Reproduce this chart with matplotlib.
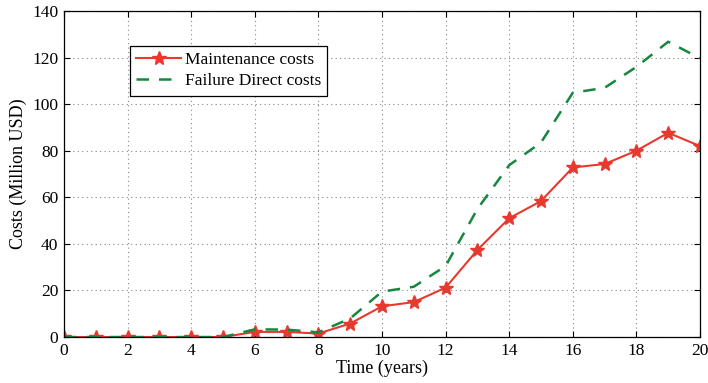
import matplotlib
matplotlib.use("Agg")
import matplotlib.pyplot as plt

plt.rcParams["font.family"] = ["Liberation Serif", "DejaVu Serif"]
plt.rcParams["mathtext.fontset"] = "stix"

# ---- Data (costs in million USD per year) ----
years = list(range(0, 21))
maintenance = [0, 0, 0, 0, 0, 0, 2.2, 2.2, 1.5, 5.8, 13.2, 15.0, 21.2, 37.4,
               51.0, 58.4, 72.8, 74.3, 80.0, 87.7, 82.0]
failure_direct = [0, 0, 0, 0, 0, 0, 3.3, 3.2, 2.0, 8.0, 19.5, 21.6, 30.5, 55.0,
                  73.8, 83.5, 104.9, 107.0, 116.0, 126.8, 119.7]

x_ticks = list(range(0, 21, 2))
y_ticks = list(range(0, 141, 20))

fig = plt.figure(figsize=(7.08, 3.83), dpi=100)
ax = fig.add_axes([0.0904, 0.120, 0.8983, 0.8513])

red = "#e8392f"
green = "#17873f"

ax.plot(years, maintenance, color=red, lw=1.5, marker="*", ms=10,
        markeredgecolor=red, markerfacecolor=red, label="Maintenance costs")
ax.plot(years, failure_direct, color=green, lw=1.8, ls=(0, (5, 4)),
        label="Failure Direct costs")

ax.set_xlim(0, 20)
ax.set_ylim(0, 140)
ax.set_xticks(x_ticks)
ax.set_yticks(y_ticks)
ax.tick_params(direction="in", labelsize=12.5, length=4, width=0.8,
               top=True, right=True, pad=4)
ax.grid(True, linestyle=(0, (1, 3)), color="#888888", lw=0.8)
for s in ax.spines.values():
    s.set_linewidth(0.9)

ax.set_xlabel("Time (years)", fontsize=13, labelpad=1)
ax.set_ylabel("Costs (Million USD)", fontsize=13, labelpad=4)

leg = ax.legend(loc="upper left", bbox_to_anchor=(0.104, 0.893), fontsize=12.5,
                fancybox=False, edgecolor="black", framealpha=1,
                borderaxespad=0, handlelength=2.6, handletextpad=0.2,
                borderpad=0.35, labelspacing=0.3)
leg.get_frame().set_linewidth(0.9)

fig.savefig("out.png", dpi=100)
